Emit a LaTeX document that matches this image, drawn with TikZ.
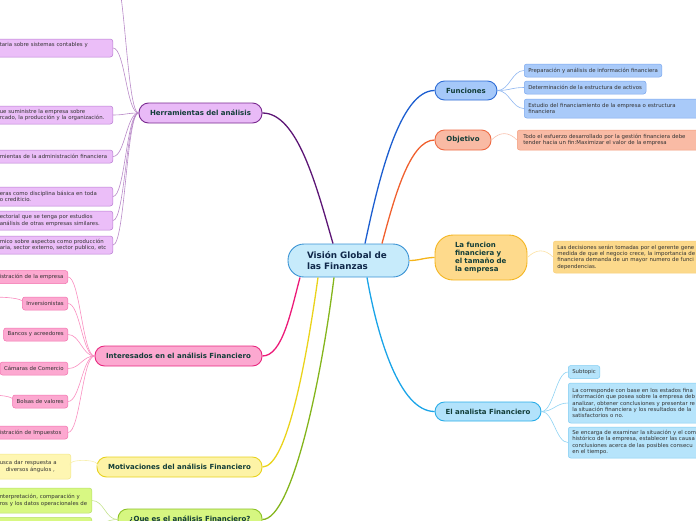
\documentclass[tikz,border=0pt]{standalone}
\usepackage{fontspec}
\setmainfont{DejaVu Sans}
\usetikzlibrary{positioning}

\definecolor{visfill}{HTML}{C7EBFB}
\definecolor{visline}{HTML}{3A93D4}
\definecolor{vistext}{HTML}{10284A}
\definecolor{topictext}{HTML}{123D38}
\definecolor{leaftext}{HTML}{333333}
\definecolor{herrfill}{HTML}{E9BAF7}
\definecolor{herrline}{HTML}{7A2A90}
\definecolor{herrbranch}{HTML}{5C1575}
\definecolor{herrleaf}{HTML}{EBBEF8}
\definecolor{herrleafline}{HTML}{B97CD2}
\definecolor{herrtwig}{HTML}{B98AC8}
\definecolor{funfill}{HTML}{A5C8F9}
\definecolor{funline}{HTML}{2E6CD5}
\definecolor{funbranch}{HTML}{1C5ED0}
\definecolor{funleaf}{HTML}{A9CAF9}
\definecolor{funleafline}{HTML}{7AA7EE}
\definecolor{funtwig}{HTML}{8DB5F0}
\definecolor{objfill}{HTML}{F9BAA4}
\definecolor{objline}{HTML}{EE6A43}
\definecolor{objbranch}{HTML}{F0602E}
\definecolor{objleaf}{HTML}{F9BBA5}
\definecolor{objleafline}{HTML}{F39C7C}
\definecolor{objtwig}{HTML}{F8C0AC}
\definecolor{tamfill}{HTML}{FEDA8C}
\definecolor{tamline}{HTML}{F4B520}
\definecolor{tambranch}{HTML}{F5B41A}
\definecolor{tamleaf}{HTML}{FCD98B}
\definecolor{tamleafline}{HTML}{F9D07A}
\definecolor{tamtwig}{HTML}{FCE0A0}
\definecolor{anafill}{HTML}{B2E2FB}
\definecolor{analine}{HTML}{2AADE8}
\definecolor{anabranch}{HTML}{1AA4E8}
\definecolor{analeaf}{HTML}{B6E4FB}
\definecolor{analeafline}{HTML}{7FCCF2}
\definecolor{anatwig}{HTML}{8FD3F3}
\definecolor{intfill}{HTML}{FCA8D0}
\definecolor{intline}{HTML}{E8287F}
\definecolor{intbranch}{HTML}{EC1A78}
\definecolor{intleaf}{HTML}{FCA8D0}
\definecolor{intleafline}{HTML}{F372AE}
\definecolor{inttwig}{HTML}{F98EC0}
\definecolor{motfill}{HTML}{FDF3A6}
\definecolor{motline}{HTML}{E8D21E}
\definecolor{motbranch}{HTML}{EAD31A}
\definecolor{motleaf}{HTML}{FEF6B2}
\definecolor{motleafline}{HTML}{F2E68A}
\definecolor{mottwig}{HTML}{F8F0B0}
\definecolor{quefill}{HTML}{D6F681}
\definecolor{queline}{HTML}{8CC226}
\definecolor{quebranch}{HTML}{84B51C}
\definecolor{queleaf}{HTML}{D8F883}
\definecolor{queleafline}{HTML}{B5E069}
\definecolor{quetwig}{HTML}{C5E38F}

\tikzset{
    topic/.style={draw, line width=0.9pt, rounded corners=9.5pt, inner sep=0pt,
        font=\bfseries\fontsize{7}{8}\selectfont, text=topictext, minimum height=20pt},
    leaf/.style={draw, line width=0.5pt, rounded corners=2.5pt, inner xsep=4pt, inner ysep=0pt,
        font=\fontsize{5.4}{6.3}\selectfont, text=leaftext, align=left, minimum height=13pt},
    branch/.style={line width=1.3pt},
    twig/.style={line width=0.6pt, out distance=12pt, in distance=12pt}
}

\begin{document}
\begin{tikzpicture}[x=1pt, y=1pt]
    \useasboundingbox (0,0) rectangle (696,-520);
    \clip (0,0) rectangle (696,-520);

    % Central topic
    \node[draw=visline, fill=visfill, line width=0.9pt, rounded corners=16pt, inner sep=0pt,
          minimum width=121pt, minimum height=33pt, text width=83pt, align=left,
          font=\bfseries\fontsize{8.8}{11}\selectfont, text=vistext] (vision) at (348.5,-260.5)
          {Visión Global de\\las Finanzas};

    % Define main topics
    \node[topic, fill=herrfill, draw=herrline, minimum width=123pt] (herr) at (200.5,-113) {Herramientas del análisis};
    \node[topic, fill=funfill, draw=funline, minimum width=62pt, minimum height=19pt] (fun) at (466,-90.5) {Funciones};
    \node[topic, fill=objfill, draw=objline, minimum width=56pt] (obj) at (463,-140) {Objetivo};
    \node[topic, fill=tamfill, draw=tamline, rounded corners=18pt, minimum width=92pt, minimum height=45pt,
          text width=52pt, align=left, font=\bfseries\fontsize{7}{7.8}\selectfont] (tam) at (481,-257.5)
          {La funcion\\financiera y\\el tamaño de\\la empresa};
    \node[topic, fill=anafill, draw=analine, minimum width=106pt, minimum height=19pt] (ana) at (488,-411.5) {El analista Financiero};
    \node[topic, fill=intfill, draw=intline, minimum width=167pt] (int) at (178.5,-356) {Interesados en el análisis Financiero};
    \node[topic, fill=motfill, draw=motline, minimum width=165pt] (mot) at (179.5,-467) {Motivaciones del análisis Financiero};
    \node[topic, fill=quefill, draw=queline, minimum width=144pt, minimum height=21pt] (que) at (190,-519.5) {¿Que es el análisis Financiero?};

    % Define subtopics, right side
    \node[leaf, fill=funleaf, draw=funleafline, anchor=west] (fun1) at (524,-70.5) {Preparación y análisis de información financiera};
    \node[leaf, fill=funleaf, draw=funleafline, anchor=west] (fun2) at (524,-87.5) {Determinación de la estructura de activos};
    \node[leaf, fill=funleaf, draw=funleafline, anchor=west, minimum height=19pt, text width=200pt] (fun3) at (524,-108.5)
          {Estudio del financiamiento de la empresa o estructura\\financiera};
    \node[leaf, fill=objleaf, draw=objleafline, anchor=west, minimum height=20pt, inner xsep=6pt, text width=200pt] (obj1) at (517,-140)
          {Todo el esfuerzo desarrollado por la gestión financiera debe\\tender hacia un fin:Maximizar el valor de la empresa};
    \node[leaf, fill=tamleaf, draw=tamleafline, anchor=west, minimum height=32pt, text width=200pt] (tam1) at (553,-257)
          {Las decisiones serán tomadas por el gerente gene\\medida de que el negocio crece, la importancia de\\financiera demanda de un mayor numero de funci\\dependencias.};
    \node[leaf, fill=analeaf, draw=analeafline, anchor=west] (ana1) at (568,-372) {Subtopic};
    \node[leaf, fill=analeaf, draw=analeafline, anchor=west, minimum height=40pt, text width=200pt] (ana2) at (568,-403)
          {La corresponde con base en los estados fina\\información que posea sobre la empresa deb\\analizar, obtener conclusiones y presentar re\\la situación financiera y los resultados de la\\satisfactorios o no.};
    \node[leaf, fill=analeaf, draw=analeafline, anchor=west, minimum height=31pt, text width=200pt] (ana3) at (568,-442.5)
          {Se encarga de examinar la situación y el com\\histórico de la empresa, establecer las causa\\conclusiones acerca de las posibles consecu\\en el tiempo.};

    % Define subtopics, left side
    \coordinate (her0) at (113,30);
    \node[leaf, fill=herrleaf, draw=herrleafline, anchor=east, minimum height=18pt, text width=109pt] (her1) at (113,-48)
          {taria sobre sistemas contables y\\~};
    \node[leaf, fill=herrleaf, draw=herrleafline, anchor=east, minimum height=18pt, text width=109pt] (her2) at (113,-115)
          {ue suministre la empresa sobre\\rcado, la producción y la organización.};
    \node[leaf, fill=herrleaf, draw=herrleafline, anchor=east, text width=109pt] (her3) at (113,-156.5)
          {mientas de la administración financiera};
    \node[leaf, fill=herrleaf, draw=herrleafline, anchor=east, minimum height=19pt, text width=109pt] (her4) at (113,-196.5)
          {eras como disciplina básica en toda\\o crediticio.};
    \node[leaf, fill=herrleaf, draw=herrleafline, anchor=east, minimum height=19pt, text width=109pt] (her5) at (113,-220.5)
          {ectorial que se tenga por estudios\\análisis de otras empresas similares.};
    \node[leaf, fill=herrleaf, draw=herrleafline, anchor=east, minimum height=18pt, text width=109pt] (her6) at (113,-245)
          {mico sobre aspectos como producción\\aria, sector externo, sector publico, etc};

    \node[leaf, fill=intleaf, draw=intleafline, anchor=east, text width=64pt] (int1) at (68,-277) {istración de la empresa};
    \node[leaf, fill=intleaf, draw=intleafline, anchor=east] (int2) at (68,-303.5) {Inversionistas};
    \node[leaf, fill=intleaf, draw=intleafline, anchor=east] (int3) at (68,-334.5) {Bancos y acreedores};
    \node[leaf, fill=intleaf, draw=intleafline, anchor=east] (int4) at (68,-368.5) {Cámaras de Comercio};
    \node[leaf, fill=intleaf, draw=intleafline, anchor=east] (int5) at (68,-401.5) {Bolsas de valores};
    \node[leaf, fill=intleaf, draw=intleafline, anchor=east, text width=64pt] (int6) at (68,-432.5) {istración de Impuestos};
    \coordinate (int2x) at (-30,-303.5);
    \coordinate (int5x) at (-30,-401.5);

    \node[leaf, fill=motleaf, draw=motleafline, anchor=east, minimum height=25pt, text width=67pt] (mot1) at (71,-466.5)
          {usca dar respuesta a\\\hspace*{6pt}diversos ángulos ,};
    \node[leaf, fill=queleaf, draw=queleafline, anchor=east, minimum height=25pt, text width=88pt] (que1) at (92,-500.5)
          {nterpretación, comparación y\\ros y los datos operacionales de};
    \node[leaf, fill=queleaf, draw=queleafline, anchor=north east, minimum height=16pt, text width=88pt] (que2) at (92,-517) {};

    % Draw main branches
    \path[branch]
        ([xshift=-15.5pt]vision.north) edge[herrbranch, out=106, in=0, out distance=60pt, in distance=35pt] (herr.east)
        ([xshift=16.5pt]vision.north) edge[funbranch, out=78, in=180, out distance=65pt, in distance=35pt] (fun.west)
        ([xshift=33.5pt]vision.north) edge[objbranch, out=75, in=180, out distance=45pt, in distance=25pt] (obj.west)
        (vision.east) edge[tambranch, out=0, in=180] (tam.west)
        ([xshift=18.5pt]vision.south) edge[anabranch, out=-80, in=180, out distance=60pt, in distance=35pt] (ana.west)
        ([xshift=-48.5pt]vision.south) edge[intbranch, out=-105, in=0, out distance=35pt, in distance=20pt] (int.east)
        ([xshift=-30.5pt]vision.south) edge[motbranch, out=-98, in=0, out distance=80pt, in distance=25pt] (mot.east)
        ([xshift=-14.5pt]vision.south) edge[quebranch, out=-97, in=0, out distance=100pt, in distance=30pt] (que.east);

    % Draw subtopic links
    \foreach \leafname in {fun1,fun2,fun3}
        \path (fun.east) edge[twig, funtwig, out=0, in=180] (\leafname.west);
    \foreach \leafname in {ana1,ana2,ana3}
        \path (ana.east) edge[twig, anatwig, out=0, in=180] (\leafname.west);
    \foreach \leafname in {her1,her2,her3,her4,her5,her6}
        \path (herr.west) edge[twig, herrtwig, out=180, in=0] (\leafname.east);
    \path (herr.west) edge[twig, herrtwig, out=180, in=0] (her0);
    \foreach \leafname in {int1,int2,int3,int4,int5,int6}
        \path (int.west) edge[twig, inttwig, out=180, in=0] (\leafname.east);
    \path (int2.west) edge[twig, inttwig] (int2x)
          (int5.west) edge[twig, inttwig] (int5x)
          (obj.east) edge[twig, objtwig] (obj1.west)
          (tam.east) edge[twig, tamtwig] (tam1.west)
          (mot.west) edge[twig, mottwig] (mot1.east)
          (que.west) edge[twig, quetwig, out=180, in=0] (que1.east)
          (que.west) edge[twig, quetwig, out=180, in=0] (que2.east);

\end{tikzpicture}
\end{document}
